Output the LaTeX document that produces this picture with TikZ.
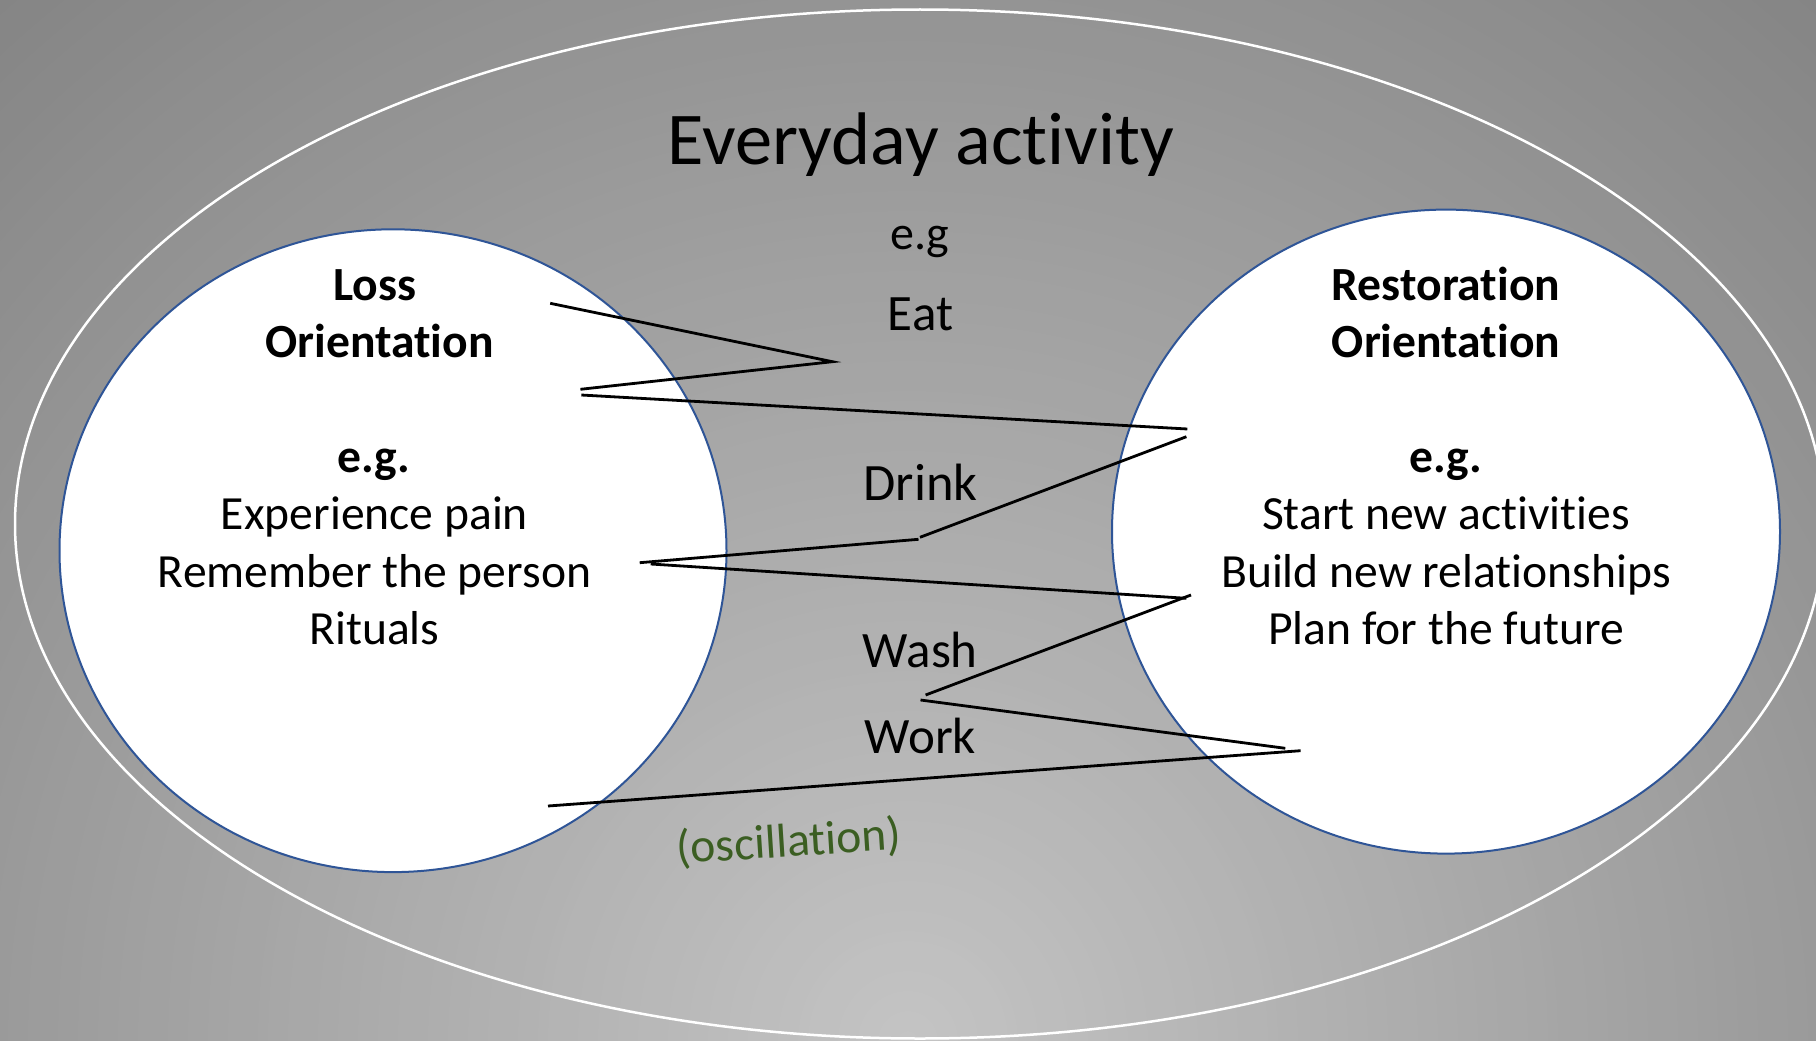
\documentclass[tikz,border=0pt]{standalone}
\usepackage{fontspec}
\setmainfont{Carlito}[Ligatures=NoCommon]
\definecolor{ringblue}{HTML}{2F5597}
\definecolor{oscgreen}{HTML}{3B5E22}
\begin{document}
\begin{tikzpicture}[x=1pt,y=-1pt,
  txt/.style={anchor=base, inner sep=0pt, text=black},
  body/.style={txt, font=\fontsize{47.6}{57}\selectfont},
  head/.style={txt, font=\fontsize{47.6}{57}\selectfont\bfseries},
  orient/.style={fill=white, draw=ringblue, line width=2pt},
  zig/.style={draw=black, line width=2.8pt}]
\useasboundingbox (0,0) rectangle (1816,1041);

% grey backdrop, lightest at the bottom centre
\begin{scope}
  \clip (0,0) rectangle (1816,1041);
  \foreach \r in {1400,1390,...,10}{
    \pgfmathsetmacro\lvl{\r<1022 ? (196-0.04603*\r)/255 : (149-0.04444*(\r-1021))/255}
    \definecolor{ringgray}{gray}{\lvl}
    \fill[ringgray] (908,1041) circle [radius=\r pt];
  }
\end{scope}

% everyday activity boundary
\coordinate (outerc) at (920,524);
\draw[white, line width=2.5pt] (outerc) ellipse [x radius=905pt, y radius=514.5pt];

% the two orientations
\coordinate (lossc) at (393,550.7);
\coordinate (restc) at (1446,531.6);
\path[orient] (lossc) ellipse [x radius=333.5pt, y radius=321.4pt];
\path[orient] (restc) ellipse [x radius=334pt, y radius=322pt];

% oscillation path
\coordinate (pA) at (550.2,303.3);
\coordinate (pB) at (832.4,361.7);
\coordinate (pC) at (580.4,389.3);
\coordinate (pD) at (581.3,395);
\coordinate (pE) at (1187.3,429);
\coordinate (pF) at (1186.4,436.7);
\coordinate (pG) at (920,537.3);
\coordinate (pG2) at (918.5,539.3);
\coordinate (pH) at (639.7,562.7);
\coordinate (pH2) at (650.7,564);
\coordinate (pI) at (1186.4,598.3);
\coordinate (pI2) at (1191,595);
\coordinate (pJ) at (925.6,695);
\coordinate (pK) at (920.5,700);
\coordinate (pL) at (1285.3,748.3);
\coordinate (pL2) at (1300.6,750.7);
\coordinate (pM) at (548,806);
\draw[zig] (pA) -- (pB) -- (pC);
\draw[zig] (pD) -- (pE);
\draw[zig] (pF) -- (pG);
\draw[zig] (pG2) -- (pH);
\draw[zig] (pH2) -- (pI);
\draw[zig] (pI2) -- (pJ);
\draw[zig] (pK) -- (pL);
\draw[zig] (pL2) -- (pM);

% centre labels
\node[txt, font=\fontsize{74.5}{88}\selectfont] (title) at (921,164) {Everyday activity};
\node[txt, font=\fontsize{48}{57}\selectfont] (eg) at (920,249.3) {e.g};
\node[txt, font=\fontsize{51}{57}\selectfont] (eat) at (920.5,330.7) {Eat};
\node[txt, font=\fontsize{52.5}{57}\selectfont] (drink) at (920.5,500) {Drink};
\node[txt, font=\fontsize{51}{57}\selectfont] (wash) at (920.3,667.5) {Wash};
\node[txt, font=\fontsize{51}{57}\selectfont] (work) at (920.5,753.8) {Work};
\node[txt, font=\fontsize{47.6}{57}\selectfont, text=oscgreen, rotate=3.7] (osc) at (789.5,856.5) {(oscillation)};

% loss orientation text
\node[head] (loss1) at (374.5,300) {Loss};
\node[head] (loss2) at (379.5,357) {Orientation};
\node[head] (loss3) at (374,472) {e.g.};
\node[body] (loss4) at (374.5,529.5) {Experience pain};
\node[body] (loss5) at (374.5,587) {Remember the person};
\node[body] (loss6) at (374.5,644.5) {Rituals};

% restoration orientation text
\node[head] (rest1) at (1446,300) {Restoration};
\node[head] (rest2) at (1446,357) {Orientation};
\node[head] (rest3) at (1446,472) {e.g.};
\node[body] (rest4) at (1446,529.5) {Start new activities};
\node[body] (rest5) at (1446,587) {Build new relationships};
\node[body] (rest6) at (1446,644.5) {Plan for the future};
\end{tikzpicture}
\end{document}
